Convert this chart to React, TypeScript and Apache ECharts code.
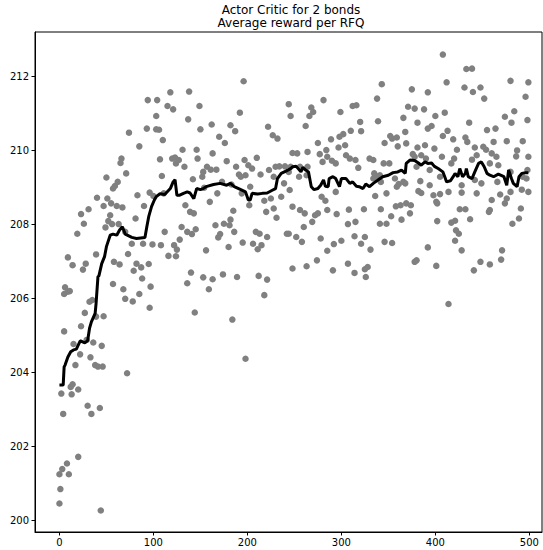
import React, { useEffect, useRef } from "react";
import * as echarts from "echarts";

const titleLines = ["Actor Critic for 2 bonds", "Average reward per RFQ"];
const xTicks = [0, 100, 200, 300, 400, 500];
const yTicks = [200, 202, 204, 206, 208, 210, 212];

// Rewards per RFQ episode: [episode, reward]
const rewardsEarly: [number, number][] = [
  [94,211.35],[104,211.35],[103,210.92],[74,210.47],[93,210.58],[103,210.56],[106,210.55],[110,210.27],[85,210.10],[66,209.77],
  [65,209.65],[107,209.75],[50,209.26],[71,209.37],[109,209.30],[62,209.14],[59,209.03],[57,208.96],[40,208.71],[51,208.69],
  [83,208.78],[96,208.85],[100,208.76],[111,208.83],[47,208.49],[55,208.56],[61,208.49],[67,208.45],[90,208.49],[23,208.27],
  [31,208.40],[54,208.24],[81,208.15],[26,208.01],[52,208.08],[56,208.00],[63,208.00],[19,207.74],[49,207.91],[70,207.79],
  [112,207.79],[77,207.47],[89,207.47],[99,207.45],[108,207.43],[9,207.10],[14,206.89],[28,206.93],[25,206.77],[39,207.18],
  [58,206.98],[64,206.91],[73,207.19],[82,206.93],[87,206.83],[95,206.92],[79,206.74],[88,206.53],
  [57,206.38],[68,206.24],[97,206.31],[70,205.98],[78,205.91],[85,206.11],[96,205.74],[6,206.29],[9,206.17],[5,206.11],
  [11,206.19],[32,205.90],[35,205.95],[27,205.60],[39,205.50],[47,205.51],[5,205.10],[23,205.24],[15,204.76],[29,204.87],
  [36,204.80],[45,204.71],[22,204.48],[33,204.40],[17,204.19],[38,204.19],[41,204.15],[46,204.15],[72,203.97],[14,203.67],
  [12,203.60],[2,203.42],[13,203.40],[20,203.53],[30,203.09],[34,202.87],[43,203.03],[4,202.87],[20,201.71],[8,201.53],
  [3,201.38],[0,201.24],[10,201.24],[1,200.84],[0,200.45],[44,200.26],
];

const rewardsMid: [number, number][] = [
  [196,211.86],[118,211.56],[138,211.58],[115,211.19],[121,211.10],[149,211.19],[192,211.01],[137,210.83],[150,210.56],[162,210.69],
  [182,210.67],[187,210.51],[170,210.36],[176,210.19],[222,210.63],[227,210.40],[232,210.31],[131,210.01],[146,210.01],[163,209.91],
  [123,209.80],[127,209.73],[120,209.77],[124,209.64],[133,209.55],[147,209.77],[178,209.70],[197,209.73],[210,209.79],[157,209.55],
  [161,209.47],[153,209.41],[152,209.28],[167,209.47],[188,209.55],[201,209.59],[205,209.50],[191,209.34],[193,209.28],[198,209.32],
  [214,209.34],[223,209.46],[230,209.55],[234,209.56],[240,209.56],[244,209.41],[142,209.21],[173,209.14],[183,209.07],[203,209.01],
  [228,209.28],[239,209.10],[245,208.92],[154,208.98],[168,208.83],[160,208.60],[194,208.83],[218,208.63],[225,208.69],[236,208.74],
  [134,208.51],[139,208.33],[143,208.29],[185,208.36],[202,208.51],[220,208.33],[228,208.42],[231,208.17],[130,207.92],[136,207.79],
  [141,207.73],[145,207.86],[166,207.97],[175,208.01],[182,208.12],[181,207.97],[186,207.79],[171,207.73],[169,207.64],[209,207.79],
  [213,207.74],[221,207.65],[242,207.74],[195,207.50],[206,207.47],[215,207.43],[211,207.32],[128,207.58],[122,207.43],[125,207.31],
  [124,207.13],[116,207.14],[180,207.38],[156,207.29],[140,206.69],[153,206.56],[163,206.51],[174,206.64],[189,206.57],[212,206.60],
  [221,206.50],[136,206.40],[159,206.24],[218,206.08],[144,205.61],[184,205.42],[198,204.36],
];

const rewardsLate: [number, number][] = [
  [244,211.24],[246,210.92],[268,211.15],[266,210.92],[270,211.03],[312,211.19],[316,211.21],[281,211.35],[299,211.03],[338,211.39],
  [343,211.78],[375,211.64],[371,211.17],[378,211.12],[262,210.65],[320,210.76],[339,210.78],[366,210.87],[289,210.29],[298,210.36],
  [302,210.43],[310,210.52],[321,210.51],[275,210.19],[284,210.00],[297,210.07],[304,210.13],[346,210.19],[352,210.38],[354,210.31],
  [359,210.34],[360,210.10],[368,210.49],[369,210.18],[248,209.92],[253,209.91],[264,209.95],[277,209.89],[285,209.82],[280,209.68],
  [290,209.71],[294,209.64],[305,209.86],[309,209.77],[315,209.73],[330,209.77],[334,209.73],[345,209.64],[376,209.89],[378,209.82],
  [246,209.55],[256,209.55],[264,209.55],[318,209.52],[335,209.37],[338,209.29],[334,209.23],[341,209.32],[351,209.64],[255,209.28],
  [263,209.32],[342,209.14],[357,209.23],[361,209.08],[366,209.14],[368,209.10],[359,209.01],[294,208.87],[279,208.74],[283,208.63],
  [336,208.76],[348,208.83],[248,208.47],[256,208.38],[261,208.29],[275,208.29],[272,208.24],[285,208.38],[295,208.27],[308,208.39],
  [324,208.40],[342,208.40],[358,208.48],[363,208.51],[369,208.56],[374,208.51],[373,208.29],[269,208.06],[260,207.92],[307,208.00],
  [315,208.06],[348,208.01],[353,208.21],[341,208.01],[364,208.12],[244,207.74],[252,207.65],[258,207.52],[278,207.61],[292,207.46],
  [300,207.55],[314,207.67],[325,207.65],[321,207.47],[346,207.52],[354,207.49],[285,207.28],[331,207.31],[248,206.80],[263,206.86],
  [274,207.02],[291,206.75],[307,206.93],[314,206.68],[325,206.78],[328,206.84],[326,206.57],[378,206.98],
];

const rewardsFinal: [number, number][] = [
  [408,212.58],[433,212.19],[439,212.20],[412,211.83],[480,211.87],[499,211.83],[431,211.69],[440,211.57],[448,211.69],[452,211.39],
  [496,211.44],[392,211.56],[388,211.10],[381,210.74],[400,210.92],[410,211.01],[392,210.58],[396,210.65],[436,210.74],[474,210.90],
  [484,211.05],[481,210.74],[498,210.81],[408,210.38],[413,210.52],[419,210.29],[432,210.34],[455,210.54],[464,210.58],[434,210.22],
  [389,210.13],[399,210.04],[381,210.07],[423,210.01],[442,210.07],[451,210.09],[454,210.01],[462,210.22],[476,210.24],[493,210.24],
  [487,209.99],[499,209.82],[385,209.86],[390,209.77],[407,209.82],[420,209.77],[439,209.74],[444,209.86],[460,209.91],[465,209.82],
  [486,209.83],[380,209.55],[394,209.46],[417,209.64],[458,209.64],[467,209.59],[480,209.41],[498,209.46],[405,209.28],[384,209.16],
  [394,209.05],[428,209.05],[442,209.19],[449,209.10],[466,209.14],[493,209.28],[497,209.23],[385,208.84],[382,208.89],[398,208.78],
  [405,208.81],[414,208.87],[428,208.85],[444,208.83],[469,208.80],[476,208.69],[480,208.87],[492,208.93],[499,208.87],[460,208.65],
  [474,208.56],[401,208.60],[402,208.56],[426,208.40],[432,208.40],[437,208.13],[458,208.38],[457,208.33],[491,208.42],[402,208.08],
  [417,208.04],[421,208.09],[422,207.83],[425,207.74],[482,208.01],[489,208.15],[421,207.55],[392,207.37],[428,207.29],[471,207.29],
  [380,207.02],[401,206.87],[441,206.75],[448,206.98],[458,206.91],[470,207.04],[414,205.84],
];

// Running average of the reward: [episode, average]
const averageReward: [number, number][] = [
  [0,203.65],[4,203.65],[5,204.14],[6,204.19],[9,204.41],[12,204.55],[15,204.6],[18,204.62],[22,204.84],[23,204.84],
  [27,204.79],[30,204.85],[32,205.18],[34,205.36],[38,205.59],[39,205.86],[40,206.22],[41,206.58],[42,206.6],[45,206.93],
  [48,207.12],[50,207.39],[54,207.70],[57,207.73],[61,207.70],[64,207.84],[67,207.93],[70,207.73],[77,207.64],[82,207.61],
  [91,207.64],[93,207.93],[95,208.2],[98,208.47],[101,208.65],[103,208.74],[107,208.82],[112,208.8],[118,208.96],[121,209.14],
  [123,209.2],[125,208.78],[128,208.78],[132,208.83],[136,208.87],[139,208.84],[143,208.69],[146,208.96],[150,208.93],[153,208.96],
  [157,209.02],[164,209.07],[171,209.1],[178,209.05],[182,209.1],[186,209.01],[193,208.93],[198,208.87],[201,208.65],[203,208.65],
  [205,208.83],[211,208.81],[216,208.83],[221,208.84],[227,208.92],[230,208.96],[232,209.23],[236,209.37],[241,209.43],[246,209.5],
  [248,209.55],[252,209.56],[257,209.41],[259,209.53],[262,209.46],[265,209.41],[268,209.01],[271,208.93],[275,208.96],[278,209.05],
  [281,209.19],[283,209.02],[286,209.01],[287,209.23],[291,209.28],[294,209.23],[298,209.01],[300,209.23],[305,209.23],[309,209.1],
  [312,209.14],[316,209.02],[319,209.01],[323,208.96],[326,209.08],[330,209.01],[334,209.1],[339,209.19],[344,209.28],[350,209.32],
  [355,209.39],[360,209.41],[364,209.46],[368,209.37],[369,209.64],[373,209.73],[378,209.72],[382,209.65],[385,209.59],[389,209.68],
  [392,209.64],[396,209.65],[399,209.56],[403,209.5],[408,209.41],[410,209.28],[412,209.14],[416,209.17],[419,209.28],[421,209.37],
  [424,209.28],[426,209.5],[429,209.28],[432,209.37],[433,209.5],[435,209.28],[439,209.23],[442,209.41],[446,209.64],[449,209.68],
  [452,209.55],[455,209.37],[458,209.32],[462,209.28],[467,209.35],[473,209.28],[476,209.05],[478,209.46],[481,209.23],[483,209.1],
  [487,209.01],[489,209.28],[492,209.37],[496,209.39],[499,209.39],
];

const FONT = '"DejaVu Sans", sans-serif';

export default function App() {
  const ref = useRef<HTMLDivElement>(null);

  useEffect(() => {
    if (!ref.current) return;
    const chart = echarts.init(ref.current, null, { renderer: "svg" });
    const points = [...rewardsEarly, ...rewardsMid, ...rewardsLate, ...rewardsFinal];
    chart.setOption({
      animation: false,
      backgroundColor: "#ffffff",
      graphic: [
        {
          type: "text",
          x: 291,
          y: 3,
          style: {
            text: titleLines.join("\n"),
            fontSize: 12,
            fontFamily: FONT,
            fill: "#000",
            align: "center",
            verticalAlign: "top",
            lineHeight: 13.5,
          },
        },
      ],
      grid: {
        left: 35,
        top: 32,
        right: 1,
        height: 500,
        show: true,
        borderColor: "#000",
        borderWidth: 1,
        backgroundColor: "transparent",
        containLabel: false,
      },
      xAxis: {
        type: "value",
        min: -26,
        max: 513.5,
        splitLine: { show: false },
        axisLine: { show: true, onZero: false, lineStyle: { color: "#000", width: 1 } },
        axisTick: { show: true, length: 3.5, customValues: xTicks, lineStyle: { color: "#000" } },
        axisLabel: {
          customValues: xTicks,
          color: "#000",
          fontSize: 10,
          fontFamily: FONT,
          margin: 5,
        },
      },
      yAxis: {
        type: "value",
        min: 199.68,
        max: 213.19,
        splitLine: { show: false },
        axisLine: { show: true, onZero: false, lineStyle: { color: "#000", width: 1 } },
        axisTick: { show: true, length: 3.5, customValues: yTicks, lineStyle: { color: "#000" } },
        axisLabel: {
          customValues: yTicks,
          color: "#000",
          fontSize: 10,
          fontFamily: FONT,
          margin: 6,
        },
      },
      series: [
        {
          type: "scatter",
          data: points,
          symbolSize: 6.5,
          itemStyle: { color: "#808080", opacity: 1 },
          z: 2,
          silent: true,
        },
        {
          type: "line",
          data: averageReward,
          showSymbol: false,
          symbol: "none",
          lineStyle: { color: "#000", width: 3 },
          z: 3,
          silent: true,
        },
      ],
    });
    return () => chart.dispose();
  }, []);

  return (
    <div
      ref={ref}
      style={{ position: "fixed", left: 0, top: 0, width: 543, height: 550 }}
    />
  );
}
